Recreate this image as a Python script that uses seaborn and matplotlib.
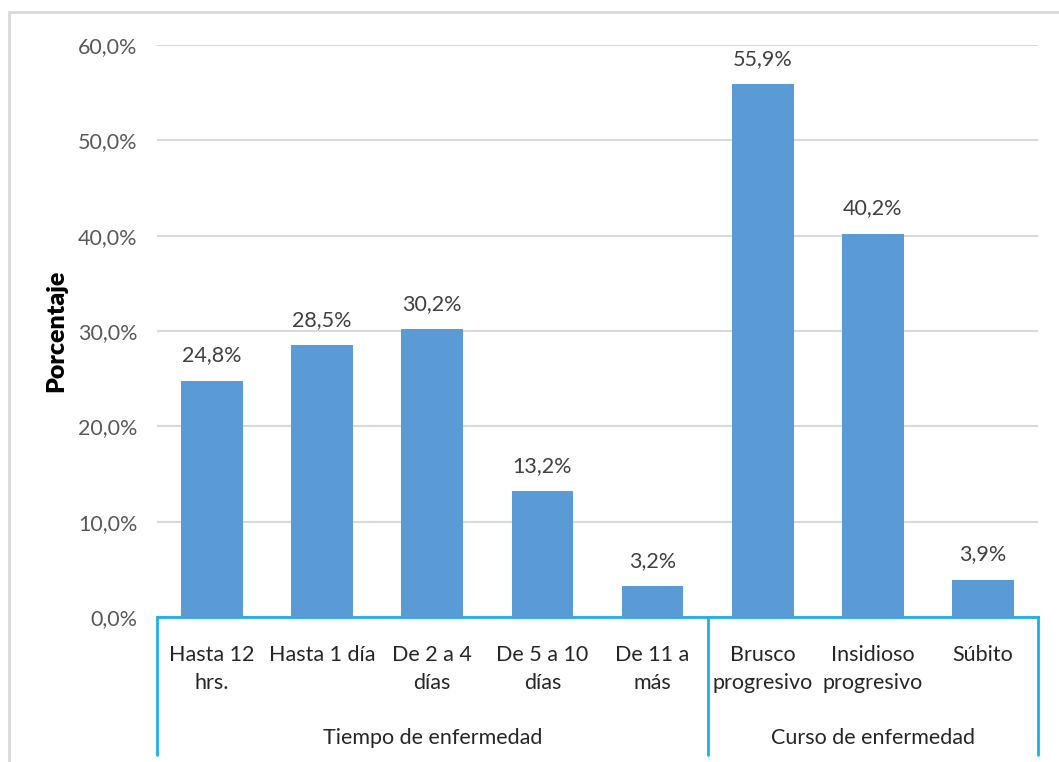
import matplotlib
matplotlib.use("Agg")
import matplotlib.pyplot as plt
import matplotlib.transforms as mtransforms
from matplotlib.patches import Rectangle
import seaborn as sns
import pandas as pd

categories = ["Hasta 12\nhrs.", "Hasta 1 día", "De 2 a 4\ndías", "De 5 a 10\ndías",
              "De 11 a\nmás", "Brusco\nprogresivo", "Insidioso\nprogresivo", "Súbito"]
values = [24.8, 28.5, 30.2, 13.2, 3.2, 55.9, 40.2, 3.9]
value_labels = ["24,8%", "28,5%", "30,2%", "13,2%", "3,2%", "55,9%", "40,2%", "3,9%"]
groups = ["Tiempo de enfermedad", "Curso de enfermedad"]
group_sizes = [5, 3]
yticks = [0, 10, 20, 30, 40, 50, 60]
ytick_labels = ["0,0%", "10,0%", "20,0%", "30,0%", "40,0%", "50,0%", "60,0%"]

sns.set_theme(style="white")
plt.rcParams["font.family"] = ["Lato", "DejaVu Sans"]

FS = 15.5
W, H = 1059, 762
fig = plt.figure(figsize=(W / 100, H / 100), dpi=100)
fig.patch.set_facecolor("white")

# outer chart border
fig.patches.append(Rectangle((9 / W, -0.1), 1.2, (H - 12) / H + 0.1,
                             transform=fig.transFigure, fill=False,
                             edgecolor="#D9D9D9", linewidth=2))

left, right, top, bottom = 157, 1038, 45, 617
ax = fig.add_axes([left / W, (H - bottom) / H, (right - left) / W, (bottom - top) / H])

df = pd.DataFrame({"cat": categories, "val": values})
sns.barplot(data=df, x="cat", y="val", color="#5B9BD5", saturation=1,
            width=0.56, ax=ax, zorder=3, linewidth=0)

ax.set_ylim(0, 60)
ax.set_xlim(-0.5, len(categories) - 0.5)
ax.set_yticks(yticks)
ax.set_yticklabels(ytick_labels, color="#595959", fontsize=FS)
ax.yaxis.grid(True, color="#D9D9D9", linewidth=1.5, zorder=0)
ax.set_axisbelow(True)
for s in ["left", "right", "top"]:
    ax.spines[s].set_visible(False)
ax.spines["bottom"].set_color("#1AB0E8")
ax.spines["bottom"].set_linewidth(2)
ax.tick_params(axis="y", length=0, pad=14)
ax.tick_params(axis="x", length=0, pad=20)
ax.set_xticks(range(len(categories)))
ax.set_xticklabels(categories, fontsize=FS, color="#262626", linespacing=1.5)
ax.set_xlabel("")
ax.set_ylabel("Porcentaje", fontsize=18, fontweight="heavy", color="black",
              labelpad=8)

for i, (v, lab) in enumerate(zip(values, value_labels)):
    ax.annotate(lab, (i, v), xytext=(0, 11), textcoords="offset points",
                ha="center", va="bottom", fontsize=FS, color="#404040")

# multi-level category axis lines and group labels
trans = mtransforms.blended_transform_factory(ax.transData, ax.transAxes)
low = (bottom - 755) / (bottom - top)
pos = -0.5
edges = [pos]
for g, n in zip(groups, group_sizes):
    center = pos + n / 2
    ax.text(center, (bottom - 738) / (bottom - top), g, transform=trans,
            ha="center", va="center", fontsize=FS, color="#262626")
    pos += n
    edges.append(pos)
for e in edges:
    ax.plot([e, e], [0, low], transform=trans, color="#1AB0E8", linewidth=2,
            clip_on=False)

fig.savefig("out.png", dpi=100, facecolor="white")
